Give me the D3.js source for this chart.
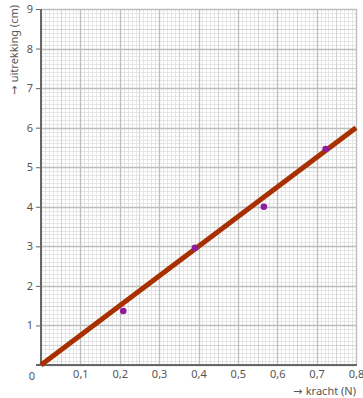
<!DOCTYPE html>
<html><head><meta charset="utf-8">
<script src="https://cdn.jsdelivr.net/npm/d3@7"></script>
<style>body{margin:0;background:#fff}svg{display:block}text{font-family:"Noto Sans",sans-serif;fill:#555}.arr{font-family:"DejaVu Sans",sans-serif}</style>
</head><body><svg id="c" width="363" height="398"></svg>
<script>
const xTicks = [0.1,0.2,0.3,0.4,0.5,0.6,0.7,0.8];
const xTickLabels = ["0,1","0,2","0,3","0,4","0,5","0,6","0,7","0,8"];
const yTicks = [1,2,3,4,5,6,7,8,9];
const forceN = [0.209, 0.391, 0.566, 0.723];
const extensionCm = [1.365, 2.96, 4.00, 5.46];
const fitLineX = [0, 0.8];
const fitLineY = [0, 6.0];
const xLabel = "kracht (N)";
const yLabel = "uitrekking (cm)";

const svg = d3.select("#c");
const L=41, R=356, T=9, B=365;
const x = d3.scaleLinear().domain([0,0.8]).range([L,R]);
const y = d3.scaleLinear().domain([0,9]).range([B,T]);

const g = svg.append("g");
const minorX = d3.range(0,81).map(i=>i/100);
const minorY = d3.range(0,91).map(i=>i/10);
function vlines(vals, color, w){
  g.append("g").selectAll("line").data(vals).join("line")
   .attr("x1",d=>Math.round(x(d))+0.5).attr("x2",d=>Math.round(x(d))+0.5)
   .attr("y1",T).attr("y2",B).attr("stroke",color).attr("stroke-width",w);
}
function hlines(vals, color, w){
  g.append("g").selectAll("line").data(vals).join("line")
   .attr("y1",d=>Math.round(y(d))+0.5).attr("y2",d=>Math.round(y(d))+0.5)
   .attr("x1",L).attr("x2",R).attr("stroke",color).attr("stroke-width",w);
}
vlines(minorX.filter((d,i)=>i%5!==0),"#e6e6e6",1);
hlines(minorY.filter((d,i)=>i%5!==0),"#e6e6e6",1);
vlines(minorX.filter((d,i)=>i%5===0 && i%10!==0),"#d2d2d2",1);
hlines(minorY.filter((d,i)=>i%5===0 && i%10!==0),"#d2d2d2",1);
vlines(minorX.filter((d,i)=>i%10===0),"#bdbdbd",1.3);
hlines(minorY.filter((d,i)=>i%10===0),"#bdbdbd",1.3);

const yAxis = d3.axisLeft(y).tickValues(yTicks).tickSize(5).tickPadding(3).tickFormat(d3.format("d"));
const ya = svg.append("g").attr("transform",`translate(${L},0)`).call(yAxis);
ya.select(".domain").remove();
ya.selectAll(".tick line").attr("stroke","#666");
ya.selectAll("text").style("font-size","11px").attr("fill","#555");

const xAxis = d3.axisBottom(x).tickValues(xTicks).tickSize(0).tickPadding(5).tickFormat((d,i)=>xTickLabels[i]);
const xa = svg.append("g").attr("transform",`translate(0,${B})`).call(xAxis);
xa.select(".domain").remove();
xa.selectAll("text").style("font-size","11px").attr("fill","#555");

svg.append("line").attr("x1",L).attr("x2",L).attr("y1",T).attr("y2",B+1).attr("stroke","#666").attr("stroke-width",2);
svg.append("line").attr("x1",L-5).attr("x2",R+1).attr("y1",B).attr("y2",B).attr("stroke","#666").attr("stroke-width",2);
svg.append("text").attr("x",L-9).attr("y",B+15).attr("text-anchor","middle").style("font-size","11px").text("0");

svg.append("line").attr("x1",x(fitLineX[0])).attr("y1",y(fitLineY[0]))
  .attr("x2",x(fitLineX[1])).attr("y2",y(fitLineY[1]))
  .attr("stroke","#a83000").attr("stroke-width",5);

svg.append("g").selectAll("circle").data(forceN).join("circle")
  .attr("cx",d=>x(d)).attr("cy",(d,i)=>y(extensionCm[i])).attr("r",3.3).attr("fill","#8e1a9e");

const xl = svg.append("text").attr("x",R).attr("y",395).attr("text-anchor","end").style("font-size","11px");
xl.append("tspan").attr("class","arr").text("→ ");
xl.append("tspan").text(xLabel);
const yl = svg.append("text").attr("transform","translate(18,50) rotate(-90)").attr("text-anchor","middle").style("font-size","11px");
yl.append("tspan").attr("class","arr").text("→ ");
yl.append("tspan").text(yLabel);
</script></body></html>
